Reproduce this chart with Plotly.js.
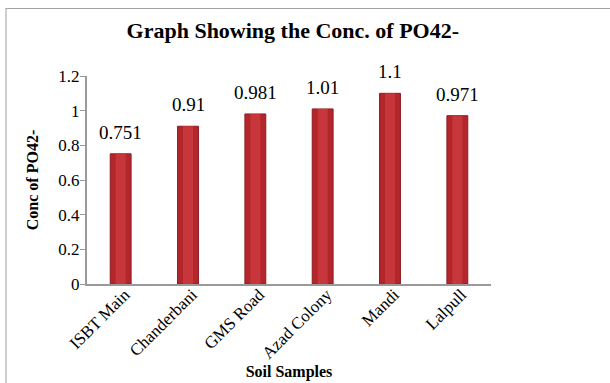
<!DOCTYPE html>
<html>
<head>
<meta charset="utf-8">
<script src="https://cdn.plot.ly/plotly-3.0.1.min.js"></script>
<style>
  html, body { margin: 0; padding: 0; background: #fff; overflow: hidden; }
  #chart { width: 610px; height: 383px; position: absolute; left: 0; top: 0; }
  #frame { position: absolute; left: 5px; top: 8px; width: 700px; height: 500px;
           border-top: 1px solid #a3a3a3; border-left: 2px solid #cfcfcf; pointer-events: none; }
</style>
</head>
<body>
<div id="chart"></div>
<div id="frame"></div>
<script>
// Soil sample sites and their phosphate concentration
const samples = ["ISBT Main", "Chanderbani", "GMS Road", "Azad Colony", "Mandi", "Lalpull"];
const po4Conc = [0.751, 0.91, 0.981, 1.01, 1.1, 0.971];
const valueLabels = ["0.751", "0.91", "0.981", "1.01", "1.1", "0.971"];
const yTicks = [0, 0.2, 0.4, 0.6, 0.8, 1, 1.2];
const yTickText = ["0", "0.2", "0.4", "0.6", "0.8", "1", "1.2"];

const serif = "Liberation Serif";

const bars = {
  type: "bar",
  x: samples,
  y: po4Conc,
  width: 0.31,
  marker: { color: "#b3262c", line: { color: "#8e1c21", width: 1 } },
  hoverinfo: "x+y"
};

// lighter core stripe to give the bars a rounded look
const sheen = {
  type: "bar",
  x: samples,
  y: po4Conc,
  width: 0.15,
  marker: { color: "#c6363b", line: { width: 0 } },
  hoverinfo: "skip"
};

// value labels sitting above each bar
const labels = samples.map((s, i) => ({
  x: s,
  y: po4Conc[i],
  text: valueLabels[i],
  showarrow: false,
  yanchor: "bottom",
  yshift: 9,
  font: { family: serif, size: 19, color: "#000" }
}));

const layout = {
  width: 610,
  height: 383,
  margin: { l: 87, r: 119, t: 76, b: 99 },
  paper_bgcolor: "#fff",
  plot_bgcolor: "#fff",
  showlegend: false,
  barmode: "overlay",
  annotations: labels,
  title: {
    text: "<b>Graph Showing the Conc. of PO42-</b>",
    font: { family: serif, size: 22, color: "#000" },
    x: 0.48, xanchor: "center",
    y: 0.92, yanchor: "middle"
  },
  xaxis: {
    type: "category",
    showline: true,
    linecolor: "#9a9a9a",
    linewidth: 2,
    ticks: "",
    tickangle: -45,
    ticklabelshift: 4,
    ticklabelstandoff: -8,
    tickfont: { family: serif, size: 17, color: "#000" },
    title: { text: "<b>Soil Samples</b>", font: { family: serif, size: 16, color: "#000" }, standoff: 0 },
    showgrid: false,
    zeroline: false,
    fixedrange: true,
    automargin: false
  },
  yaxis: {
    range: [0, 1.2],
    tickvals: yTicks,
    ticktext: yTickText,
    showline: true,
    linecolor: "#9a9a9a",
    linewidth: 2,
    ticks: "outside",
    ticklen: 5,
    tickcolor: "#9a9a9a",
    tickwidth: 1,
    ticklabelstandoff: -3,
    tickfont: { family: serif, size: 17, color: "#000" },
    title: { text: "<b>Conc of PO42-</b>", font: { family: serif, size: 16, color: "#000" }, standoff: 16 },
    showgrid: false,
    zeroline: false,
    fixedrange: true,
    automargin: false
  }
};

Plotly.newPlot("chart", [bars, sheen], layout, { displayModeBar: false, staticPlot: true });
</script>
</body>
</html>
